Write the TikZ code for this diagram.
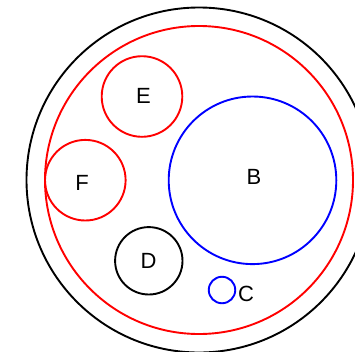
\documentclass[tikz,border=0pt]{standalone}
\usepackage{fontspec}
\setmainfont{Liberation Sans}
\begin{document}
\begin{tikzpicture}[x=1pt,y=-1pt,
  ring/.style={circle,draw=#1,line width=1.9pt,inner sep=0pt},
  lbl/.style={inner sep=0pt,text=black,font=\fontsize{22}{24}\selectfont}]
\useasboundingbox (0,0) rectangle (355,351);
\clip (0,0) rectangle (355,351);
\node[ring=black,minimum size=345pt] (A) at (199,180) {};
\node[ring=red,minimum size=308pt] (R) at (199,180) {};
\node[ring=red,minimum size=80.6pt] (E) at (142,96.5) {};
\node[lbl] (El) at (143.5,95.7) {E};
\node[ring=red,minimum size=80.6pt] (F) at (85.3,180.2) {};
\node[lbl] (Fl) at (82,183) {F};
\node[ring=blue,minimum size=167.6pt] (B) at (252.5,180.3) {};
\node[lbl] (Bl) at (254,176.5) {B};
\node[ring=black,minimum size=67.4pt] (D) at (148.8,260.8) {};
\node[lbl] (Dl) at (148.5,260.5) {D};
\node[ring=blue,minimum size=26.5pt] (C) at (222,290) {};
\node[lbl,anchor=west] (Cl) at (238,293.5) {C};
\end{tikzpicture}
\end{document}
